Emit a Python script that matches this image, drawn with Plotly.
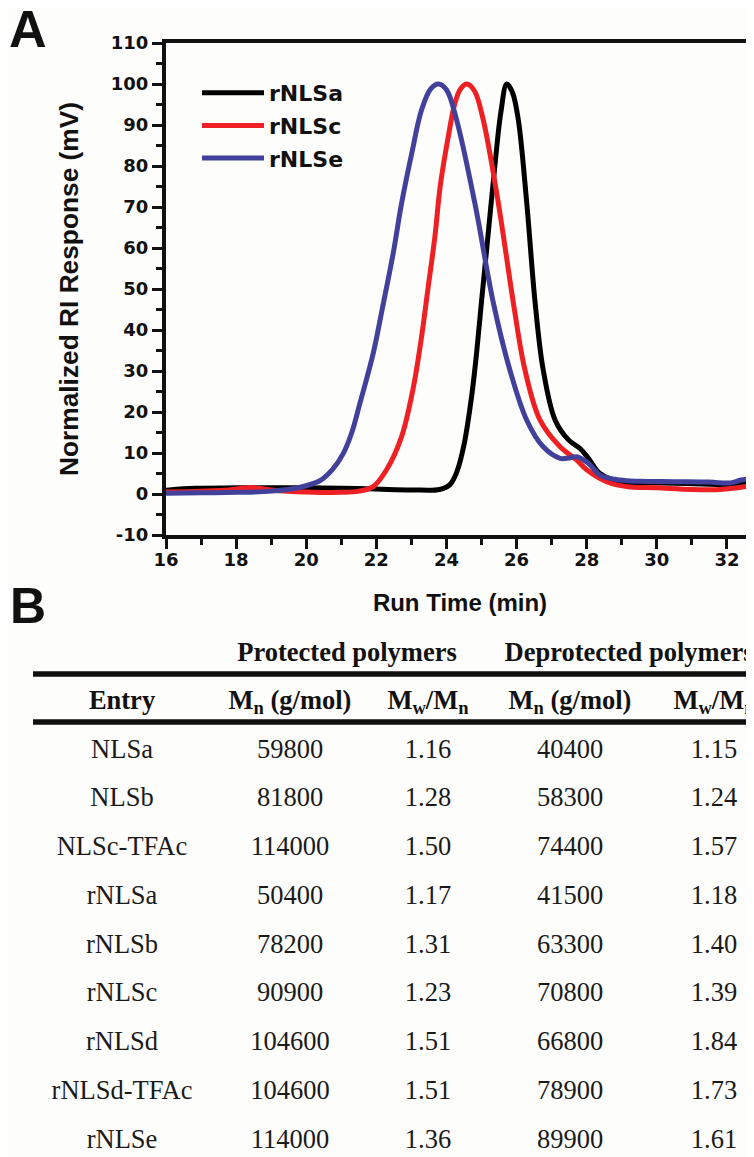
import plotly.graph_objects as go

# ---------------- Panel A data (GPC traces) ----------------
t_rNLSa = [16.0, 16.5, 17.0, 18.0, 19.0, 20.0, 21.0, 22.0, 23.0, 23.8, 24.1, 24.3, 24.5, 24.72,
           24.86, 25.0, 25.15, 25.38, 25.55, 25.72, 25.88, 26.05, 26.29, 26.53, 26.76, 27.1,
           27.48, 27.81, 28.05, 28.38, 28.95, 29.5, 30.5, 31.5, 32.2, 32.5, 32.8]
v_rNLSa = [0.9, 1.3, 1.4, 1.5, 1.5, 1.5, 1.4, 1.2, 1.0, 1.1, 2.3, 5.5, 12.0, 24.0,
           34.5, 47.0, 60.0, 80.0, 93.0, 100.0, 98.0, 91.2, 70.9, 46.5, 30.2, 18.0,
           13.2, 11.1, 8.7, 5.0, 3.0, 2.8, 2.6, 2.4, 2.3, 2.8, 3.2]

t_rNLSc = [16.0, 17.0, 17.8, 18.4, 19.0, 20.0, 21.0, 21.5, 21.91, 22.29, 22.72, 23.06, 23.29,
           23.48, 23.67, 23.82, 24.05, 24.24, 24.4, 24.58, 24.8, 25.05, 25.48, 25.91, 26.24,
           26.67, 27.24, 27.71, 28.0, 28.57, 29.14, 30.0, 31.0, 31.8, 32.3, 32.8]
v_rNLSc = [0.5, 0.7, 1.0, 1.6, 1.0, 0.5, 0.4, 0.7, 1.8, 5.9, 14.0, 26.2, 38.4,
           50.6, 62.8, 75.0, 87.1, 95.3, 98.8, 100.0, 98.3, 91.2, 70.9, 46.5, 30.2,
           18.0, 11.5, 8.3, 5.9, 3.0, 1.8, 1.5, 1.1, 1.1, 1.5, 2.2]

t_rNLSe = [16.0, 17.0, 18.0, 19.0, 19.8, 20.4, 20.75, 21.05, 21.3, 21.53, 21.91, 22.2, 22.48,
           22.72, 23.01, 23.29, 23.55, 23.77, 24.0, 24.29, 24.81, 25.34, 25.81, 26.29, 26.76,
           27.24, 27.5, 27.71, 28.05, 28.38, 28.95, 29.5, 30.5, 31.5, 32.1, 32.4, 32.8]
v_rNLSe = [0.2, 0.3, 0.4, 0.7, 1.6, 3.3, 6.0, 9.8, 15.0, 22.1, 34.3, 46.5, 58.7,
           70.9, 83.1, 93.7, 98.8, 100.0, 98.6, 91.2, 70.9, 46.5, 30.2, 18.0, 11.5,
           8.7, 8.8, 9.1, 7.5, 4.6, 3.4, 3.1, 3.0, 2.9, 2.7, 3.4, 3.9]

series_names = ["rNLSa", "rNLSc", "rNLSe"]
series_t = [t_rNLSa, t_rNLSc, t_rNLSe]
series_v = [v_rNLSa, v_rNLSc, v_rNLSe]
series_colors = ["#000000", "#ee2024", "#41419c"]

x_ticks = [16, 18, 20, 22, 24, 26, 28, 30, 32]
y_ticks = [-10, 0, 10, 20, 30, 40, 50, 60, 70, 80, 90, 100, 110]
y_ticktext = ["-10", "0", "10", "20", "30", "40", "50", "60", "70", "80", "90", "100", "110"]

# ---------------- Panel B data (table) ----------------
group_headers = ["Protected polymers", "Deprotected polymers"]
col_headers = ["Entry", "M<sub>n</sub> (g/mol)", "M<sub>w</sub>/M<sub>n</sub>",
               "M<sub>n</sub> (g/mol)", "M<sub>w</sub>/M<sub>n</sub>"]
entries = ["NLSa", "NLSb", "NLSc-TFAc", "rNLSa", "rNLSb", "rNLSc", "rNLSd", "rNLSd-TFAc", "rNLSe"]
prot_mn = ["59800", "81800", "114000", "50400", "78200", "90900", "104600", "104600", "114000"]
prot_pdi = ["1.16", "1.28", "1.50", "1.17", "1.31", "1.23", "1.51", "1.51", "1.36"]
deprot_mn = ["40400", "58300", "74400", "41500", "63300", "70800", "66800", "78900", "89900"]
deprot_pdi = ["1.15", "1.24", "1.57", "1.18", "1.40", "1.39", "1.84", "1.73", "1.61"]
table_columns = [entries, prot_mn, prot_pdi, deprot_mn, deprot_pdi]

# ---------------- layout constants (page pixels) ----------------
PAGE_W, PAGE_H = 754, 1157
OFF = 8                                   # default body margin of the page
FW, FH = PAGE_W - OFF, PAGE_H - OFF       # figure size that fits the window
BG = "#fdfdfb"


def fx(p):
    return (p - OFF) / FW


def fy(p):
    return 1 - (p - OFF) / FH


col_x = [122, 290, 428, 570, 714]          # column centres
group_x = [347, 629]                        # group header centres
ROW0, ROW_STEP = 751, 48.75                 # first data row & spacing
HDR_Y, GRP_Y = 702, 654
RULES_Y = [674, 722]

fig = go.Figure()

for name, t, v, c in zip(series_names, series_t, series_v, series_colors):
    fig.add_trace(go.Scatter(
        x=t, y=v, name=name, mode="lines",
        line=dict(color=c, width=5, shape="spline", smoothing=1.0),
        legendgroup=name, xaxis="x", yaxis="y"))

tick_font = dict(family="DejaVu Sans", size=18, color="#111", weight=700)
cell_font = dict(family="Liberation Serif", size=26.5, color="#1a1a1a")
head_font = dict(family="Liberation Serif", size=26.5, color="#111", weight=700)

rows_idx = list(range(len(entries)))
for ci, col in enumerate(table_columns):
    fig.add_trace(go.Scatter(
        x=[col_x[ci]] * len(col), y=rows_idx, text=col, mode="text",
        textposition="middle center", textfont=cell_font,
        showlegend=False, hoverinfo="skip", xaxis="x2", yaxis="y2"))

hdr_row = (HDR_Y - ROW0) / ROW_STEP
grp_row = (GRP_Y - ROW0) / ROW_STEP
fig.add_trace(go.Scatter(
    x=col_x, y=[hdr_row] * len(col_x), text=col_headers, mode="text",
    textposition="middle center", textfont=head_font,
    showlegend=False, hoverinfo="skip", xaxis="x2", yaxis="y2"))
fig.add_trace(go.Scatter(
    x=group_x, y=[grp_row] * len(group_x), text=group_headers, mode="text",
    textposition="middle center", textfont=head_font,
    showlegend=False, hoverinfo="skip", xaxis="x2", yaxis="y2"))

for ypx in RULES_Y:
    r = (ypx - ROW0) / ROW_STEP
    fig.add_shape(type="line", xref="x2", yref="y2", x0=33, x1=PAGE_W, y0=r, y1=r,
                  line=dict(color="#111", width=5.5))

x_max = 16 + (PAGE_W - 166) / 35.06

fig.update_layout(
    width=FW, height=FH,
    margin=dict(l=0, r=0, t=0, b=0, pad=0),
    paper_bgcolor=BG, plot_bgcolor="rgba(0,0,0,0)",
    showlegend=True,
    legend=dict(x=fx(197), y=fy(72), xanchor="left", yanchor="top",
                bgcolor="rgba(0,0,0,0)", itemwidth=62, tracegroupgap=1,
                traceorder="grouped",
                font=dict(family="DejaVu Sans", size=22, color="#111", weight=700)),
    xaxis=dict(domain=[fx(166), 1], range=[16, x_max], anchor="y",
               tickvals=x_ticks, ticks="outside", ticklen=10, tickwidth=3,
               tickcolor="#111", showline=True, linewidth=4, linecolor="#111",
               mirror=True, showgrid=False, zeroline=False,
               tickfont=tick_font, automargin=False, ticklabelstandoff=-5,
               minor=dict(dtick=1, ticks="outside", ticklen=6, tickwidth=3,
                          tickcolor="#111", showgrid=False),
               title=dict(text="Run Time (min)", standoff=27,
                          font=dict(family="Liberation Sans", size=24, color="#111",
                                    weight=700))),
    yaxis=dict(domain=[fy(535), fy(43)], range=[-10, 110], anchor="x",
               tickvals=y_ticks, ticktext=y_ticktext, ticks="outside", ticklen=10,
               tickwidth=3, tickcolor="#111", showline=True, linewidth=4,
               linecolor="#111", mirror=False, showgrid=False, zeroline=False,
               tickfont=tick_font, automargin=False,
               minor=dict(dtick=5, ticks="outside", ticklen=6, tickwidth=3,
                          tickcolor="#111", showgrid=False),
               title=dict(text="Normalized RI Response (mV)", standoff=26,
                          font=dict(family="Liberation Sans", size=26.3, color="#111",
                                    weight=700))),
    xaxis2=dict(domain=[0, 1], range=[OFF, PAGE_W], anchor="y2", visible=False,
                fixedrange=True),
    yaxis2=dict(domain=[0, 1], range=[(PAGE_H - ROW0) / ROW_STEP, (OFF - ROW0) / ROW_STEP],
                anchor="x2", visible=False, fixedrange=True),
    annotations=[
        dict(text="A", x=fx(28), y=fy(29), xref="paper", yref="paper",
             showarrow=False, xanchor="center", yanchor="middle",
             font=dict(family="Liberation Sans", size=52, color="#111", weight=700)),
        dict(text="B", x=fx(28), y=fy(606), xref="paper", yref="paper",
             showarrow=False, xanchor="center", yanchor="middle",
             font=dict(family="Liberation Sans", size=50, color="#111", weight=700)),
    ],
)

fig.write_html("out.html")
